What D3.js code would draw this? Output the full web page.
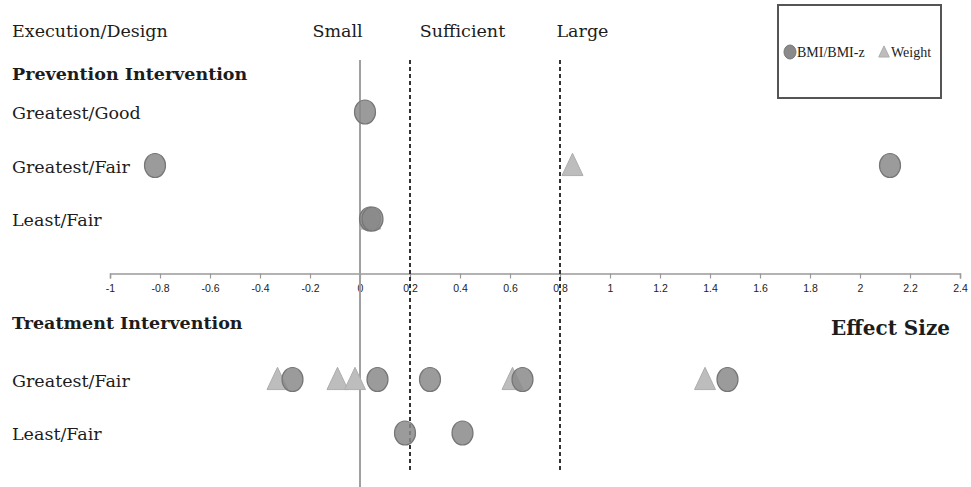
<!DOCTYPE html>
<html><head><meta charset="utf-8">
<script src="https://cdn.jsdelivr.net/npm/d3@7"></script>
<style>body{margin:0;background:#fff} svg{display:block}</style>
</head><body>
<svg id="c" width="971" height="487"></svg>
<script>
// ---- data ----
const rows = ["P-Greatest/Good", "P-Greatest/Fair", "P-Least/Fair", "axis", "T-header", "T-Greatest/Fair", "T-Least/Fair"];
const rowLabels = ["Greatest/Good", "Greatest/Fair", "Least/Fair", "", "", "Greatest/Fair", "Least/Fair"];
const groupTitles = ["Prevention Intervention", "Treatment Intervention"];
const xTicks = [-1, -0.8, -0.6, -0.4, -0.2, 0, 0.2, 0.4, 0.6, 0.8, 1, 1.2, 1.4, 1.6, 1.8, 2, 2.2, 2.4];
const thresholds = [0.2, 0.8];
const magnitudeLabels = ["Small", "Sufficient", "Large"];
const bmiRows = ["P-Greatest/Good", "P-Greatest/Fair", "P-Greatest/Fair", "P-Least/Fair", "P-Least/Fair",
  "T-Greatest/Fair", "T-Greatest/Fair", "T-Greatest/Fair", "T-Greatest/Fair", "T-Greatest/Fair",
  "T-Least/Fair", "T-Least/Fair"];
const bmiValues = [0.02, -0.82, 2.12, 0.04, 0.05, -0.27, 0.07, 0.28, 0.65, 1.47, 0.18, 0.41];
const weightRows = ["P-Greatest/Fair", "P-Least/Fair", "T-Greatest/Fair", "T-Greatest/Fair", "T-Greatest/Fair", "T-Greatest/Fair", "T-Greatest/Fair"];
const weightValues = [0.85, 0.04, -0.33, -0.09, -0.02, 0.61, 1.38];
const legendLabels = ["BMI/BMI-z", "Weight"];

// ---- chart ----
const svg = d3.select("#c");
const serif = "'DejaVu Serif', serif";
const ink = "#1c1c1c";
const x = d3.scaleLinear().domain([-1, 2.4]).range([110, 960]);
const y = d3.scalePoint().domain(rows).range([112, 433]);
const axisY = y("axis") + 1;

// axis
const axis = d3.axisBottom(x).tickValues(xTicks).tickSize(5).tickSizeOuter(5).tickPadding(6)
  .tickFormat(d => String(+d.toFixed(1)));
const ag = svg.append("g").attr("transform", `translate(0,${axisY})`).call(axis);
ag.select(".domain").attr("stroke", "#9a9a9a").attr("stroke-width", 1.5);
ag.selectAll(".tick line").attr("stroke", "#9a9a9a").attr("stroke-width", 1.2);
ag.selectAll(".tick text").attr("fill", "#222").style("font-family", "'Liberation Sans', sans-serif").style("font-size", "10.5px");

// zero line
svg.append("line").attr("x1", x(0)).attr("x2", x(0)).attr("y1", 60).attr("y2", 487)
  .attr("stroke", "#a0a0a0").attr("stroke-width", 2);
// threshold lines
svg.selectAll("line.thr").data(thresholds).join("line").attr("class", "thr")
  .attr("x1", d => x(d)).attr("x2", d => x(d)).attr("y1", 60).attr("y2", 470)
  .attr("stroke", "#333").attr("stroke-width", 2).attr("stroke-dasharray", "4,3");

// headers
svg.append("text").attr("x", 12).attr("y", 37).text("Execution/Design")
  .style("font-family", serif).style("font-size", "17.5px").attr("fill", ink);
const magX = [-0.09, 0.41, 0.89];
svg.selectAll("text.mag").data(magnitudeLabels).join("text").attr("class", "mag")
  .attr("x", (d, i) => x(magX[i])).attr("y", 37).attr("text-anchor", "middle").text(d => d)
  .style("font-family", serif).style("font-size", "17.5px").attr("fill", ink);

svg.append("text").attr("x", 12).attr("y", 80).text(groupTitles[0])
  .style("font-family", serif).style("font-size", "17.5px").style("font-weight", "bold").attr("fill", ink);
svg.append("text").attr("x", 12).attr("y", y("T-header") + 3).text(groupTitles[1])
  .style("font-family", serif).style("font-size", "17.5px").style("font-weight", "bold").attr("fill", ink);
svg.append("text").attr("x", 950).attr("y", y("T-header") + 9).attr("text-anchor", "end").text("Effect Size")
  .style("font-family", serif).style("font-size", "20px").style("font-weight", "bold").attr("fill", ink);

svg.selectAll("text.row").data(rows.map((r, i) => ({r, l: rowLabels[i]})).filter(d => d.l)).join("text")
  .attr("class", "row").attr("x", 12).attr("y", d => y(d.r) + 7).text(d => d.l)
  .style("font-family", serif).style("font-size", "17.5px").attr("fill", ink);

// markers
const tri = {draw(ctx, size) { const w = Math.sqrt(size); ctx.moveTo(0, -w * 0.58); ctx.lineTo(w * 0.5, w * 0.48); ctx.lineTo(-w * 0.5, w * 0.48); ctx.closePath(); }};
const triPath = d3.symbol(tri, 441);
svg.selectAll("path.wt").data(weightValues.map((v, i) => ({v, r: weightRows[i]}))).join("path").attr("class", "wt")
  .attr("d", triPath).attr("transform", d => `translate(${x(d.v)},${y(d.r)})`)
  .attr("fill", "#bdbdbd").attr("stroke", "#adadad").attr("stroke-width", 1);
svg.selectAll("ellipse.bmi").data(bmiValues.map((v, i) => ({v, r: bmiRows[i]}))).join("ellipse").attr("class", "bmi")
  .attr("cx", d => x(d.v)).attr("cy", d => y(d.r)).attr("rx", 10.5).attr("ry", 12)
  .attr("fill", "#8a8a8a").attr("fill-opacity", 0.85).attr("stroke", "#767676").attr("stroke-width", 1.2);

// legend
const lg = svg.append("g");
lg.append("rect").attr("x", 778).attr("y", 5).attr("width", 163).attr("height", 93)
  .attr("fill", "none").attr("stroke", "#555").attr("stroke-width", 2);
lg.append("ellipse").attr("cx", 790).attr("cy", 52).attr("rx", 6).attr("ry", 7)
  .attr("fill", "#8a8a8a").attr("stroke", "#767676");
lg.append("text").attr("x", 797).attr("y", 57).text(legendLabels[0])
  .style("font-family", "'Liberation Serif', serif").style("font-size", "14px").attr("fill", ink);
lg.append("path").attr("d", d3.symbol(tri, 110)).attr("transform", "translate(884,52)")
  .attr("fill", "#bdbdbd").attr("stroke", "#adadad");
lg.append("text").attr("x", 891).attr("y", 57).text(legendLabels[1])
  .style("font-family", "'Liberation Serif', serif").style("font-size", "14px").attr("fill", ink);
</script>
</body></html>
